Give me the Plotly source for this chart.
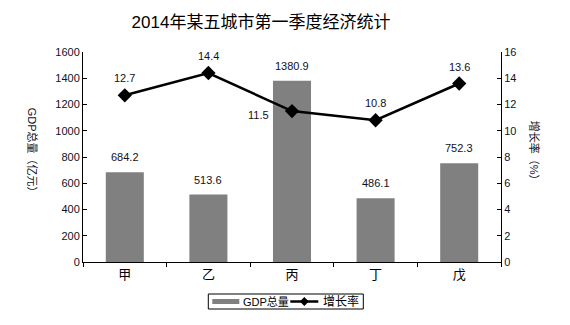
import plotly.graph_objects as go

# 2014 Q1 economic statistics for five cities
cities = ["甲", "乙", "丙", "丁", "戊"]
gdp = [684.2, 513.6, 1380.9, 486.1, 752.3]          # 亿元
growth = [12.7, 14.4, 11.5, 10.8, 13.6]             # %
series_names = ["GDP总量", "增长率"]

FONT = "Liberation Sans, Noto Sans CJK SC, sans-serif"
TXT = "#111122"
BAR_COLOR = "#808080"

L, R, T, B = 82.7, 69.3, 52, 63
W, H = 570, 325
pw, ph = W - L - R, H - T - B


def px_x(x):
    return (x - L) / pw


def px_y(y):
    return (H - B - y) / ph


fig = go.Figure()

fig.add_trace(go.Bar(
    x=cities, y=gdp, name=series_names[0],
    marker=dict(color=BAR_COLOR, line=dict(width=0)),
    width=0.455, yaxis="y",
))

fig.add_trace(go.Scatter(
    x=cities, y=growth, name=series_names[1], mode="lines+markers",
    line=dict(color="black", width=2.5),
    marker=dict(symbol="diamond", size=11, color="black"),
    yaxis="y2",
))

annotations = []
# value labels above the bars
for c, v in zip(cities, gdp):
    annotations.append(dict(
        x=c, y=v, xref="x", yref="y", text=f"{v:.1f}", showarrow=False,
        yshift=15, font=dict(size=11, color=TXT, family=FONT),
    ))
# value labels for the growth line
for c, v in zip(cities, growth):
    xs, ys = 0, 17
    if c == "丙":
        xs, ys = -34, -4
    annotations.append(dict(
        x=c, y=v, xref="x", yref="y2", text=f"{v:.1f}", showarrow=False,
        xshift=xs, yshift=ys, font=dict(size=11, color=TXT, family=FONT),
    ))

# axis titles, read top to bottom
annotations.append(dict(
    x=px_x(33), y=px_y(153), xref="paper", yref="paper", text="GDP总量（亿元）",
    xanchor="center", yanchor="middle",
    showarrow=False, textangle=90, font=dict(size=11, color=TXT, family=FONT),
))
annotations.append(dict(
    x=px_x(535), y=px_y(153), xref="paper", yref="paper", text="增长率（%）",
    xanchor="center", yanchor="middle",
    showarrow=False, textangle=90, font=dict(size=11, color=TXT, family=FONT),
))

# compact boxed legend below the plot
shapes = []
lg_top, lg_bot = 294, 309
lg_mid = (lg_top + lg_bot) / 2
shapes.append(dict(type="rect", xref="paper", yref="paper",
                   x0=px_x(208), x1=px_x(363), y0=px_y(lg_bot), y1=px_y(lg_top),
                   line=dict(color="black", width=1), fillcolor="white"))
shapes.append(dict(type="rect", xref="paper", yref="paper",
                   x0=px_x(212), x1=px_x(239), y0=px_y(lg_mid + 2.5), y1=px_y(lg_mid - 2.5),
                   line=dict(width=0), fillcolor=BAR_COLOR))
shapes.append(dict(type="line", xref="paper", yref="paper",
                   x0=px_x(290), x1=px_x(318), y0=px_y(lg_mid), y1=px_y(lg_mid),
                   line=dict(color="black", width=2.5)))
dcx, d = 304, 4.5
shapes.append(dict(type="path", xref="paper", yref="paper",
                   path=(f"M {px_x(dcx - d)} {px_y(lg_mid)} L {px_x(dcx)} {px_y(lg_mid - d)} "
                         f"L {px_x(dcx + d)} {px_y(lg_mid)} L {px_x(dcx)} {px_y(lg_mid + d)} Z"),
                   line=dict(width=0), fillcolor="black"))
annotations.append(dict(
    x=px_x(241), y=px_y(lg_mid), xref="paper", yref="paper", text=series_names[0],
    xanchor="left", yanchor="middle", showarrow=False,
    font=dict(size=11, color="black", family=FONT),
))
annotations.append(dict(
    x=px_x(321), y=px_y(lg_mid), xref="paper", yref="paper", text=series_names[1],
    xanchor="left", yanchor="middle", showarrow=False,
    font=dict(size=12, color="black", family=FONT),
))

fig.update_layout(
    width=W, height=H,
    margin=dict(l=L, r=R, t=T, b=B, pad=0, autoexpand=False),
    paper_bgcolor="white", plot_bgcolor="white",
    font=dict(family=FONT, size=11, color=TXT),
    title=dict(
        text="2014年某五城市第一季度经济统计",
        x=261 / W, xref="container", xanchor="center",
        y=1 - 22 / H, yref="container", yanchor="middle",
        font=dict(size=17, color="black", family=FONT),
    ),
    xaxis=dict(
        type="category", tickson="boundaries", ticks="outside", ticklen=4,
        tickcolor="black", showline=True, linecolor="black", linewidth=1,
        showgrid=False, tickfont=dict(size=13, color="black"),
    ),
    yaxis=dict(
        range=[0, 1600], dtick=200, ticks="inside", ticklen=4,
        tickcolor="black", showline=True, linecolor="black", linewidth=1,
        showgrid=False, zeroline=False, tickfont=dict(size=11, color=TXT),
    ),
    yaxis2=dict(
        range=[0, 16], dtick=2, overlaying="y", side="right",
        ticks="inside", ticklen=4, tickcolor="black", showline=True,
        linecolor="black", linewidth=1, showgrid=False, zeroline=False,
        tickfont=dict(size=11, color=TXT),
    ),
    shapes=shapes,
    annotations=annotations,
    showlegend=False,
    bargap=0.5,
)

fig.write_html("out.html")
